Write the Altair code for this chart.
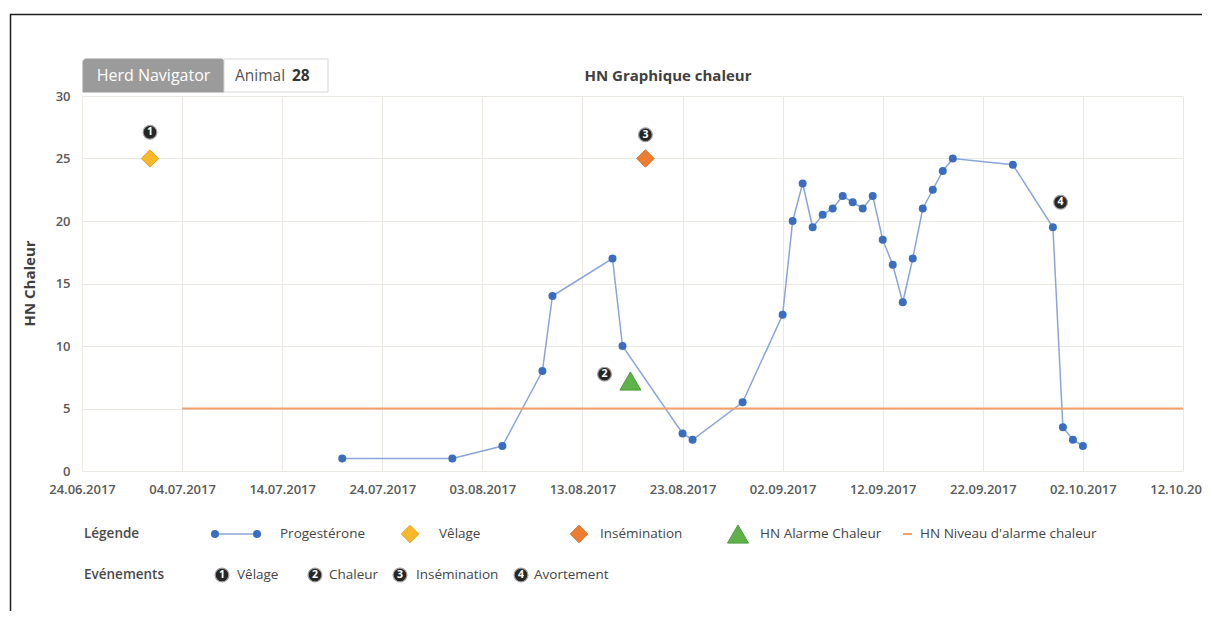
import altair as alt
import pandas as pd

FONT = "Open Sans"

# ---------------- data ----------------
prog_dates = ["2017-07-20", "2017-07-31", "2017-08-05", "2017-08-09", "2017-08-10",
              "2017-08-16", "2017-08-17", "2017-08-23", "2017-08-24", "2017-08-29",
              "2017-09-02", "2017-09-03", "2017-09-04", "2017-09-05", "2017-09-06",
              "2017-09-07", "2017-09-08", "2017-09-09", "2017-09-10", "2017-09-11",
              "2017-09-12", "2017-09-13", "2017-09-14", "2017-09-15", "2017-09-16",
              "2017-09-17", "2017-09-18", "2017-09-19", "2017-09-25", "2017-09-29",
              "2017-09-30", "2017-10-01", "2017-10-02"]
prog_values = [1, 1, 2, 8, 14, 17, 10, 3, 2.5, 5.5,
               12.5, 20, 23, 19.5, 20.5, 21, 22, 21.5, 21, 22,
               18.5, 16.5, 13.5, 17, 21, 22.5, 24, 25, 24.5, 19.5,
               3.5, 2.5, 2]

velage_dates = ["2017-06-30T19:00"]
velage_values = [25]
insem_dates = ["2017-08-19T07:00"]
insem_values = [25]
alarm_dates = ["2017-08-17T19:00"]
alarm_values = [7.2]

alarm_level = 5
alarm_start = "2017-07-04"
alarm_end = "2017-10-12"

event_labels = ["1", "2", "3", "4"]
event_dates = ["2017-06-30T19:00", "2017-08-15T05:00", "2017-08-19T07:00", "2017-09-29T18:30"]
event_values = [27.1, 7.75, 26.9, 21.5]

tick_dates = ["2017-06-24", "2017-07-04", "2017-07-14", "2017-07-24", "2017-08-03",
              "2017-08-13", "2017-08-23", "2017-09-02", "2017-09-12", "2017-09-22",
              "2017-10-02", "2017-10-12"]
y_ticks = [0, 5, 10, 15, 20, 25, 30]

title_text = "HN Graphique chaleur"
y_title = "HN Chaleur"
tab1 = "Herd Navigator"
tab2a = "Animal"
tab2b = "28"

legend_row1 = ["Légende", "Progestérone", "Vêlage", "Insémination", "HN Alarme Chaleur",
               "HN Niveau d'alarme chaleur"]
legend_row2 = ["Evénements", "Vêlage", "Chaleur", "Insémination", "Avortement"]

# ---------------- helpers ----------------
def to_dt(s):
    return pd.to_datetime(s)

def dt_obj(s):
    t = pd.Timestamp(s)
    return alt.DateTime(year=t.year, month=t.month, date=t.day)

prog_df = pd.DataFrame({"date": [to_dt(d) for d in prog_dates], "value": prog_values})
vel_df = pd.DataFrame({"date": [to_dt(d) for d in velage_dates], "value": velage_values})
ins_df = pd.DataFrame({"date": [to_dt(d) for d in insem_dates], "value": insem_values})
alm_df = pd.DataFrame({"date": [to_dt(d) for d in alarm_dates], "value": alarm_values})
evt_df = pd.DataFrame({"date": [to_dt(d) for d in event_dates], "value": event_values,
                       "label": event_labels})
lvl_df = pd.DataFrame({"date": [to_dt(alarm_start)], "date2": [to_dt(alarm_end)],
                       "value": [alarm_level]})

one = alt.Data(values=[{"a": 1}])

W, H = 1101, 375

x_scale = alt.Scale(domain=[dt_obj(tick_dates[0]), dt_obj(tick_dates[-1])], nice=False)
y_scale = alt.Scale(domain=[0, 30], nice=False)

GRID = "#ebe7e3"
LBL = "#595959"
TXT = "#444444"

x_enc = alt.X("date:T", scale=x_scale,
              axis=alt.Axis(values=[dt_obj(d) for d in tick_dates], format="%d.%m.%Y",
                            title=None, grid=True, gridColor=GRID, gridWidth=1,
                            domain=False, ticks=False, tickSize=0, labelPadding=12,
                            labelFont=FONT, labelFontSize=13, labelColor=LBL,
                            labelFontWeight=600, labelOverlap=False, labelFlush=False))
y_enc = alt.Y("value:Q", scale=y_scale,
              axis=alt.Axis(values=y_ticks, title=None, grid=True, gridColor=GRID,
                            gridWidth=1, domain=False, ticks=False, tickSize=0,
                            labelPadding=12, labelFont=FONT, labelFontSize=13,
                            labelColor=LBL, labelFontWeight=600))
x_plain = alt.X("date:T")
y_plain = alt.Y("value:Q")


def text_at(text, x, y, size=13.5, weight="normal", color=TXT, align="left", angle=0):
    kw = dict(text=text, align=align, baseline="middle", fontSize=size,
              fontWeight=weight, color=color, font=FONT)
    if angle:
        kw["angle"] = angle
    return alt.Chart(one).mark_text(**kw).encode(x=alt.value(x), y=alt.value(y))


layers = []

# outer frame
layers.append(alt.Chart(one).mark_rect(fill=None, stroke="#1e1e1e", strokeWidth=1.5).encode(
    x=alt.value(-71.5), x2=alt.value(1400), y=alt.value(-81.5), y2=alt.value(800)))

# progesterone line (carries axes)
layers.append(alt.Chart(prog_df).mark_line(color="#8aa5d8", strokeWidth=1.5).encode(
    x=x_enc, y=y_enc))

# alarm level rule
layers.append(alt.Chart(lvl_df).mark_rule(color="#f2a06a", strokeWidth=2).encode(
    x=x_plain, x2="date2:T", y=y_plain))

layers.append(alt.Chart(prog_df).mark_point(filled=True, shape="circle", size=64,
                                            color="#3a6dc0", opacity=1).encode(
    x=x_plain, y=y_plain))

# markers
layers.append(alt.Chart(vel_df).mark_point(filled=True, shape="diamond", size=300,
                                           fill="#f9b82b", stroke="#e6a010",
                                           strokeWidth=1, opacity=1).encode(x=x_plain, y=y_plain))
layers.append(alt.Chart(ins_df).mark_point(filled=True, shape="diamond", size=300,
                                           fill="#ee7d33", stroke="#d4661d",
                                           strokeWidth=1, opacity=1).encode(x=x_plain, y=y_plain))
layers.append(alt.Chart(alm_df).mark_point(filled=True, shape="triangle-up", size=440,
                                           fill="#5db34a", stroke="#4a9c3a",
                                           strokeWidth=1, opacity=1).encode(x=x_plain, y=y_plain))

# event circles
layers.append(alt.Chart(evt_df).mark_point(filled=True, shape="circle", size=190,
                                           fill="#262626", stroke="#a0a0a0",
                                           strokeWidth=1.2, opacity=1).encode(x=x_plain, y=y_plain))
layers.append(alt.Chart(evt_df).mark_text(color="white", fontSize=10.5, fontWeight="bold",
                                          font=FONT, baseline="middle", align="center").encode(
    x=x_plain, y=y_plain, text="label:N"))

# tabs
layers.append(alt.Chart(one).mark_rect(fill="#9b9b9b", stroke="#9b9b9b", cornerRadiusTopLeft=3,
                                       cornerRadiusTopRight=3).encode(
    x=alt.value(1), x2=alt.value(142), y=alt.value(-37), y2=alt.value(-4)))
layers.append(alt.Chart(one).mark_rect(fill="white", stroke="#d6d6d6", strokeWidth=1).encode(
    x=alt.value(142), x2=alt.value(246), y=alt.value(-37), y2=alt.value(-4)))
layers.append(text_at(tab1, 71.5, -20.5, size=16, color="white", align="center"))
layers.append(text_at(tab2a, 153, -20.5, size=15.5, color="#555"))
layers.append(text_at(tab2b, 210, -20.5, size=15.5, weight="bold", color="#333"))

# title
layers.append(text_at(title_text, 586, -20.5, size=15, weight="bold", color="#404040",
                      align="center"))
# y title
layers.append(text_at(y_title, -52, 187.5, size=15, weight="bold", color="#404040",
                      align="center", angle=270))

# legend row 1
R1, R2 = 438, 479
layers.append(text_at(legend_row1[0], 2, R1, weight=600, color="#4a4a4a"))
layers.append(alt.Chart(one).mark_rule(color="#8aa5d8", strokeWidth=1.5).encode(
    x=alt.value(133), x2=alt.value(175), y=alt.value(R1)))
for px in (133, 175):
    layers.append(alt.Chart(one).mark_point(filled=True, shape="circle", size=64,
                                            color="#3a6dc0", opacity=1).encode(
        x=alt.value(px), y=alt.value(R1)))
layers.append(text_at(legend_row1[1], 198, R1))
layers.append(alt.Chart(one).mark_point(filled=True, shape="diamond", size=300,
                                        fill="#f9b82b", stroke="#e6a010", strokeWidth=1,
                                        opacity=1).encode(x=alt.value(328), y=alt.value(R1)))
layers.append(text_at(legend_row1[2], 357, R1))
layers.append(alt.Chart(one).mark_point(filled=True, shape="diamond", size=300,
                                        fill="#ee7d33", stroke="#d4661d", strokeWidth=1,
                                        opacity=1).encode(x=alt.value(497), y=alt.value(R1)))
layers.append(text_at(legend_row1[3], 518, R1))
layers.append(alt.Chart(one).mark_point(filled=True, shape="triangle-up", size=440,
                                        fill="#5db34a", stroke="#4a9c3a", strokeWidth=1,
                                        opacity=1).encode(x=alt.value(656), y=alt.value(R1)))
layers.append(text_at(legend_row1[4], 678, R1))
layers.append(alt.Chart(one).mark_rule(color="#f2a06a", strokeWidth=2).encode(
    x=alt.value(821), x2=alt.value(830), y=alt.value(R1)))
layers.append(text_at(legend_row1[5], 838, R1))

# legend row 2
layers.append(text_at(legend_row2[0], 2, R2, weight=600, color="#4a4a4a"))
for (cx, tx, num, lab) in [(140, 155, "1", legend_row2[1]), (233, 247, "2", legend_row2[2]),
                           (318, 334, "3", legend_row2[3]), (439, 452, "4", legend_row2[4])]:
    layers.append(alt.Chart(one).mark_point(filled=True, shape="circle", size=190,
                                            fill="#262626", stroke="#a0a0a0",
                                            strokeWidth=1.2, opacity=1).encode(
        x=alt.value(cx), y=alt.value(R2)))
    layers.append(text_at(num, cx, R2, size=10.5, weight="bold", color="white", align="center"))
    layers.append(text_at(lab, tx, R2))

chart = alt.layer(*layers).properties(
    width=W, height=H,
    autosize=alt.AutoSizeParams(type="none"),
    padding={"left": 74, "top": 88, "right": 19, "bottom": 140},
    background="white",
).configure_view(stroke=None)

chart.save("out.html", embed_options={"renderer": "svg", "actions": False})
